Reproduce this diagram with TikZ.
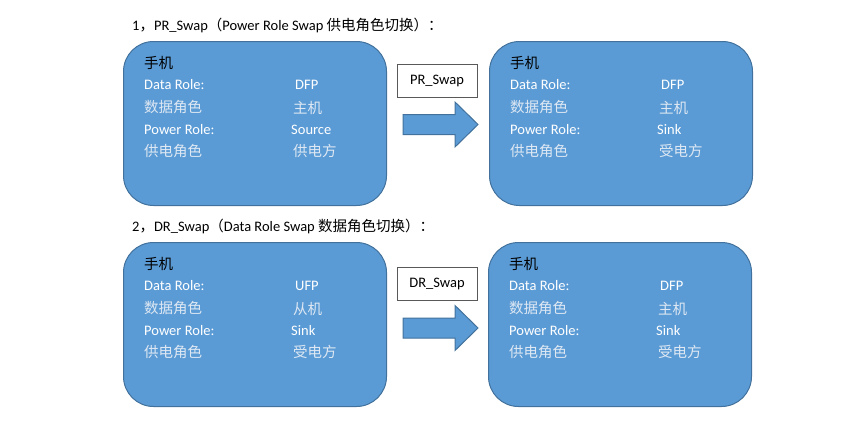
\documentclass[tikz,border=0pt]{standalone}
\usepackage{fontspec}
\setmainfont{Carlito}
\newfontfamily\cjk{Noto Sans CJK SC}
\definecolor{boxblue}{RGB}{91,155,213}
\definecolor{boxline}{RGB}{65,113,156}
\definecolor{cnwhite}{RGB}{222,232,243}
\definecolor{tagline}{RGB}{89,89,89}

\begin{document}
\begin{tikzpicture}[x=1pt, y=-1pt,
    every node/.style={font=\fontsize{14.5pt}{17pt}\selectfont},
    rolebox/.style={draw=boxline, fill=boxblue, line width=1pt, rounded corners=30pt,
        minimum width=263pt, minimum height=164pt},
    txt/.style={anchor=west, inner sep=0pt, white},
    cntxt/.style={anchor=west, inner sep=0pt, cnwhite, font=\cjk\fontsize{14.5pt}{17pt}\selectfont},
    tag/.style={draw=tagline, fill=white, line width=0.8pt, minimum width=80pt, minimum height=33pt},
    swaparrow/.style={fill=boxblue, draw=boxline, line width=1pt}]
    \useasboundingbox (0,0) rectangle (865,423);

    % Titles
    \node[anchor=west, inner sep=0pt] (title1) at (132,25)
        {1{\cjk ，}PR\_Swap{\cjk （}Power Role Swap {\cjk 供电角色切换）：}};
    \node[anchor=west, inner sep=0pt] (title2) at (132,226)
        {2{\cjk ，}DR\_Swap{\cjk （}Data Role Swap {\cjk 数据角色切换）：}};

    % Phone role boxes
    \foreach \n/\x/\y/\dr/\drc/\pr/\prc in {
        pr1/255/123.5/DFP/主机/Source/供电方,
        pr2/621/123.5/DFP/主机/Sink/受电方,
        dr1/255/324.5/UFP/从机/Sink/受电方,
        dr2/620/324.5/DFP/主机/Sink/受电方} {
        \node[rolebox] (\n) at (\x,\y) {};
        \node[cntxt, black] (\n-phone) at (\x-111,\y-60.5) {手机};
        \node[txt] (\n-dr) at (\x-111,\y-38.5) {Data Role:};
        \node[txt] (\n-drv) at (\x+40,\y-38.5) {\dr};
        \node[cntxt] (\n-drc) at (\x-111,\y-16) {数据角色};
        \node[cntxt] (\n-drcv) at (\x+38,\y-16) {\drc};
        \node[txt] (\n-pr) at (\x-111,\y+6) {Power Role:};
        \node[txt] (\n-prv) at (\x+36,\y+6) {\pr};
        \node[cntxt] (\n-prc) at (\x-111,\y+27.5) {供电角色};
        \node[cntxt] (\n-prcv) at (\x+38,\y+27.5) {\prc};
    }

    % Swap labels
    \node[tag] (tag1) at (437,80.5) {PR\_Swap};
    \node[tag] (tag2) at (437,283.5) {DR\_Swap};

    % Block arrows
    \foreach \c in {124.5,328}
        \draw[swaparrow] (403,\c-10) -- (455,\c-10) -- (455,\c-22.5) -- (478,\c)
            -- (455,\c+22.5) -- (455,\c+10) -- (403,\c+10) -- cycle;
\end{tikzpicture}
\end{document}
